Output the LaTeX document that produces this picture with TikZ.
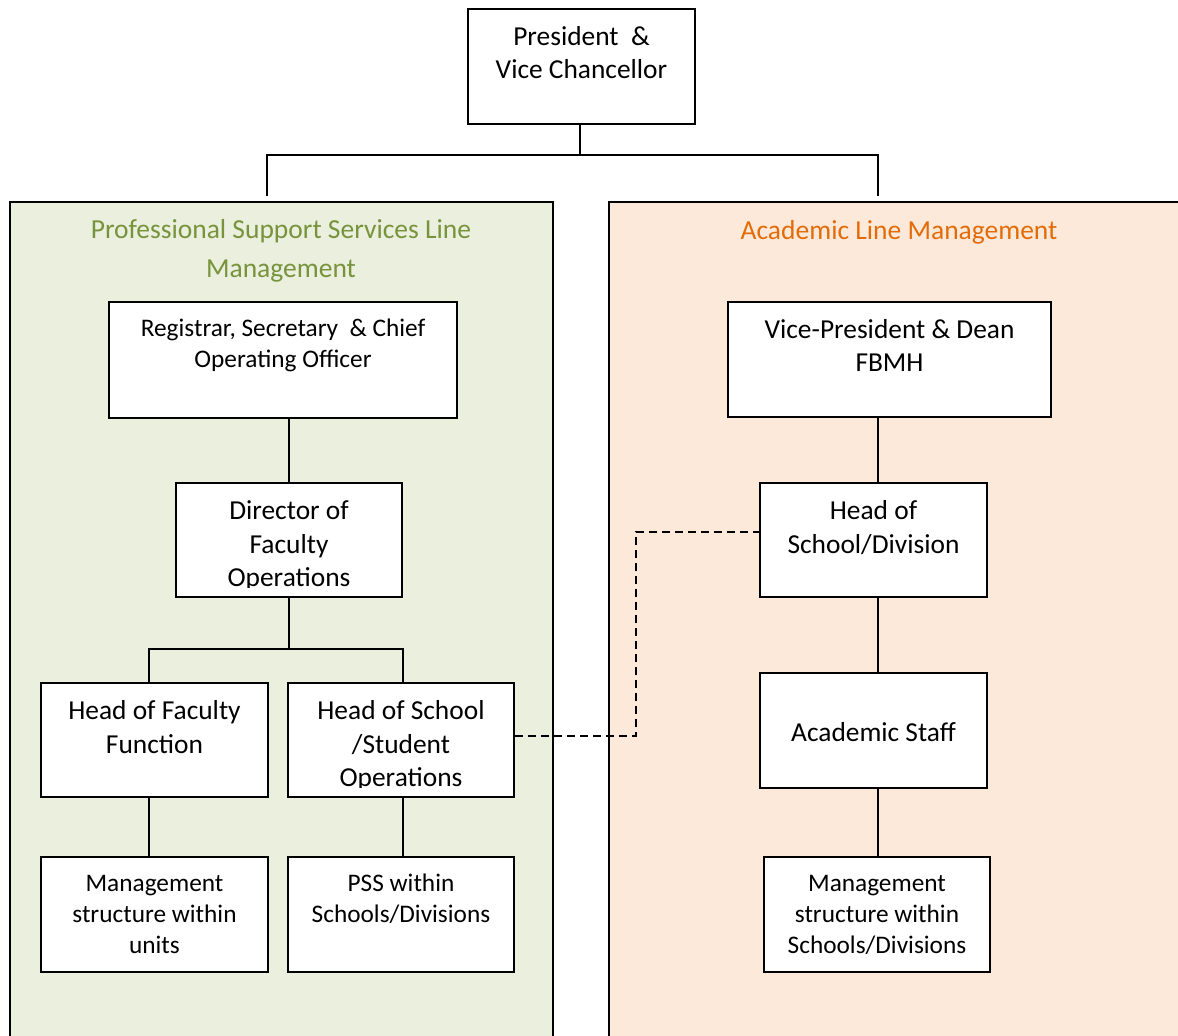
\documentclass[tikz,border=0pt]{standalone}
\usepackage{fontspec}
\setmainfont{Carlito}
\definecolor{grfill}{HTML}{EBEFDD}
\definecolor{grtext}{HTML}{77933C}
\definecolor{orfill}{HTML}{FDE9D9}
\definecolor{ortext}{HTML}{E36C09}
\newcommand{\bigf}{\fontsize{27.4}{33.5}\selectfont}
\newcommand{\smallf}{\fontsize{25.3}{31}\selectfont}
\newcommand{\titlef}{\fontsize{27.5}{39}\selectfont}
\tikzset{
  box/.style={draw, fill=white, line width=2pt, inner sep=0pt},
  txt/.style={align=center, inner sep=0pt, anchor=base},
  link/.style={line width=2pt},
  dashlink/.style={line width=2pt, dash pattern=on 8pt off 5pt},
}
\begin{document}
\begin{tikzpicture}[x=1pt,y=-1pt]
\useasboundingbox (0,0) rectangle (1178,1036);
% panels
\fill[grfill] (10,1040) -- (10,202) -- (553,202) -- (553,1040) -- cycle;
\draw[line width=2pt] (10,1040) -- (10,202) -- (553,202) -- (553,1040);
\fill[orfill] (609,1040) -- (609,202) -- (1182,202) -- (1182,1040) -- cycle;
\draw[line width=2pt] (609,1040) -- (609,202) -- (1182,202);
\node[txt, font=\titlef, text=grtext] (ttl) at (281,277) {Professional Support Services Line\\Management};
\node[txt, font=\titlef, text=ortext] (ttr) at (899,239) {Academic Line Management};
\coordinate (jl) at (267,196);
\coordinate (jr) at (878,196);
\coordinate (jt) at (580,0);
\coordinate (bl) at (149,0);
\coordinate (br) at (403,0);
% boxes
\node[box, minimum width=227pt, minimum height=115pt] (pres) at (581.5,66.5) {};
\node[box, minimum width=348pt, minimum height=116pt] (reg) at (283,360) {};
\node[box, minimum width=226pt, minimum height=114pt] (dir) at (289,540) {};
\node[box, minimum width=227pt, minimum height=114pt] (hff) at (154.5,740) {};
\node[box, minimum width=226pt, minimum height=114pt] (hss) at (401,740) {};
\node[box, minimum width=227pt, minimum height=115pt] (mu) at (154.5,914.5) {};
\node[box, minimum width=226pt, minimum height=115pt] (pss) at (401,914.5) {};
\node[box, minimum width=323pt, minimum height=115pt] (vp) at (889.5,359.5) {};
\node[box, minimum width=227pt, minimum height=114pt] (hsd) at (873.5,540) {};
\node[box, minimum width=227pt, minimum height=115pt] (as) at (873.5,730.5) {};
\node[box, minimum width=226pt, minimum height=115pt] (ms) at (877,914.5) {};
% connectors
\draw[link] (jt |- pres.south) -- ++(0,30) -| (jl);
\draw[link] (jt |- pres.south) -- ++(0,30) -| (jr);
\draw[link] (reg.south -| dir.north) -- (dir.north);
\draw[link] (dir.south) -- ++(0,51) -| (bl |- hff.north);
\draw[link] (dir.south) -- ++(0,51) -| (br |- hss.north);
\draw[link] (bl |- hff.south) -- (bl |- mu.north);
\draw[link] (br |- hss.south) -- (br |- pss.north);
\draw[link] (vp.south -| jr) -- (jr |- hsd.north);
\draw[link] (jr |- hsd.south) -- (jr |- as.north);
\draw[link] (jr |- as.south) -- (jr |- ms.north);
\draw[dashlink] ([yshift=4pt]hss.east) -| ([xshift=-123pt,yshift=8pt]hsd.west) -- ([yshift=8pt]hsd.west);
% texts
\node[txt, font=\bigf] (tpres) at (581.5,78.5) {President \ \&\\Vice Chancellor};
\node[txt, font=\smallf] (treg) at (283,367) {Registrar, Secretary \ \& Chief\\Operating Officer};
\begin{scope}
\clip (dir.north west) rectangle ([yshift=11pt]dir.south east);
\node[txt, font=\bigf] (tdir) at (289,586.5) {Director of\\Faculty\\Operations};
\end{scope}
\node[txt, font=\bigf] (thff) at (154.5,753) {Head of Faculty\\Function};
\begin{scope}
\clip (hss.north west) rectangle ([yshift=11pt]hss.south east);
\node[txt, font=\bigf] (thss) at (401,786.5) {Head of School\\/Student\\Operations};
\end{scope}
\node[txt, font=\smallf] (tmu) at (154.5,953) {Management\\structure within\\units};
\node[txt, font=\smallf] (tpss) at (401,922) {PSS within\\Schools/Divisions};
\node[txt, font=\bigf] (tvp) at (889.5,371.5) {Vice-President \& Dean\\FBMH};
\node[txt, font=\bigf] (thsd) at (873.5,553) {Head of\\School/Division};
\node[txt, font=\bigf] (tas) at (873.5,741) {Academic Staff};
\node[txt, font=\smallf] (tms) at (877,953) {Management\\structure within\\Schools/Divisions};
\end{tikzpicture}
\end{document}
